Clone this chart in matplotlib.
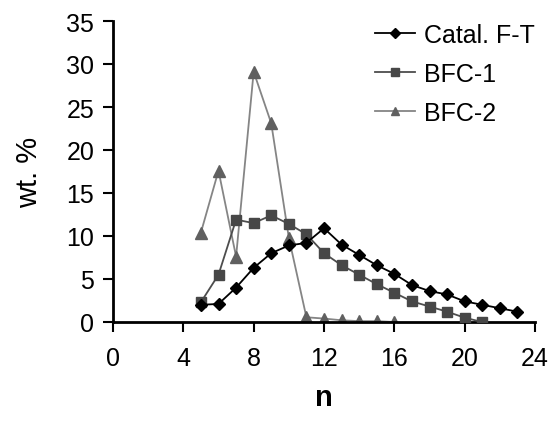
import matplotlib
matplotlib.use("Agg")
import matplotlib.pyplot as plt

plt.rcParams['font.family'] = ['Liberation Sans', 'DejaVu Sans']

# Carbon number distributions
n_ft = list(range(5, 24))
wt_ft = [2.0, 2.1, 4.0, 6.3, 8.0, 8.9, 9.2, 10.9, 9.0, 7.8, 6.6, 5.6, 4.3, 3.6, 3.2, 2.4, 2.0, 1.6, 1.2]

n_bfc1 = list(range(5, 22))
wt_bfc1 = [2.3, 5.5, 11.9, 11.5, 12.4, 11.4, 10.2, 8.0, 6.6, 5.5, 4.4, 3.4, 2.4, 1.8, 1.2, 0.5, 0.0]

n_bfc2 = list(range(5, 17))
wt_bfc2 = [10.4, 17.6, 7.6, 29.1, 23.1, 9.8, 0.55, 0.4, 0.2, 0.1, 0.1, 0.0]

labels = ["Catal. F-T", "BFC-1", "BFC-2"]
x_ticks = [0, 4, 8, 12, 16, 20, 24]
y_ticks = [0, 5, 10, 15, 20, 25, 30, 35]

fig = plt.figure(figsize=(5.48, 4.27), dpi=100)
ax = fig.add_axes([113 / 548, 1 - 323 / 427, (535 - 113) / 548, (323 - 22) / 427])

ax.plot(n_ft, wt_ft, color='black', lw=1.3, marker='D', ms=6.5,
        mfc='black', mec='black', label=labels[0], zorder=4)
ax.plot(n_bfc1, wt_bfc1, color='#4d4d4d', lw=1.3, marker='s', ms=7,
        mfc='#474747', mec='#474747', label=labels[1], zorder=3)
ax.plot(n_bfc2, wt_bfc2, color='#858585', lw=1.3, marker='^', ms=8.5,
        mfc='#606060', mec='#606060', label=labels[2], zorder=2)

ax.set_xlim(0, 24)
ax.set_ylim(0, 35)
ax.set_xticks(x_ticks)
ax.set_yticks(y_ticks)
ax.tick_params(axis='both', direction='out', length=7.5, width=1.5, labelsize=18)
ax.tick_params(axis='x', pad=10)
ax.tick_params(axis='y', pad=6)
for side in ('top', 'right'):
    ax.spines[side].set_visible(False)
for side in ('left', 'bottom'):
    ax.spines[side].set_linewidth(2)

ax.set_xlabel('n', fontsize=21, fontweight='bold', labelpad=9)
ax.set_ylabel('wt. %', fontsize=21, labelpad=17)

ax.legend(loc='upper right', bbox_to_anchor=(535 / 548, 1 - 24 / 427),
          bbox_transform=fig.transFigure, frameon=False, borderpad=0,
          borderaxespad=0, fontsize=18, handlelength=1.6, handletextpad=0.35,
          labelspacing=0.6, markerscale=0.75)

fig.savefig('out.png', dpi=100)
